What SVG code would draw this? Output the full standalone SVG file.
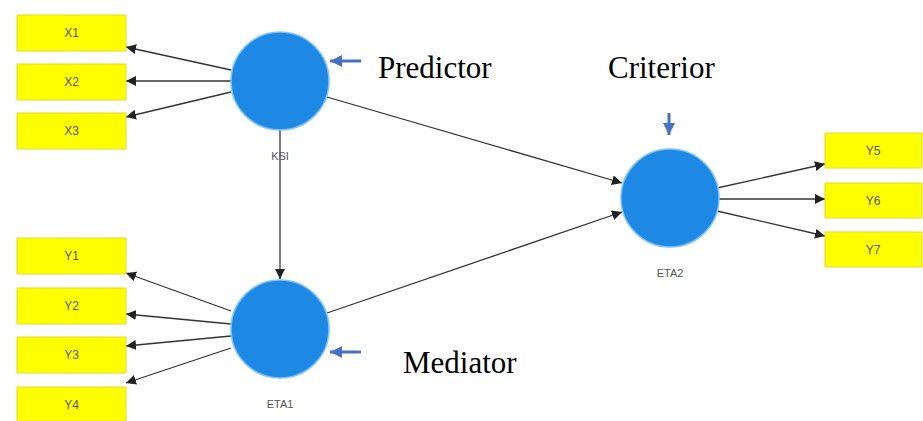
<svg xmlns="http://www.w3.org/2000/svg" width="923" height="421" viewBox="0 0 923 421">
<defs>
<marker id="ah" viewBox="0 0 10 10" refX="10" refY="5" markerWidth="10" markerHeight="10" markerUnits="userSpaceOnUse" orient="auto"><path d="M0,0 L10,5 L0,10 z" fill="#222"/></marker>
<marker id="bh" viewBox="0 0 10 10" refX="10" refY="5" markerWidth="12" markerHeight="12" markerUnits="userSpaceOnUse" orient="auto"><path d="M0,0 L10,5 L0,10 z" fill="#4472C4"/></marker>
</defs>
<style>
.box{fill:#FFFF00;stroke:#E0DA30;stroke-width:1}
.bt{font-family:"Liberation Sans",Arial,sans-serif;font-size:12px;fill:#555;text-anchor:middle}
.lv{fill:#1E88E5;stroke:#7FC4F5;stroke-width:1.5}
.lt{font-family:"Liberation Sans",Arial,sans-serif;font-size:11px;fill:#555;text-anchor:middle}
.cn{stroke:#333;stroke-width:1.3;fill:none;marker-end:url(#ah)}
.ba{stroke:#4472C4;stroke-width:3;fill:none;marker-end:url(#bh)}
.ann{font-family:"Liberation Serif","Times New Roman",serif;font-size:31px;fill:#000}
</style>
<rect width="923" height="421" fill="#fff"/>
<g id="connectors">
<line class="cn" x1="231" y1="70" x2="126" y2="47"/>
<line class="cn" x1="231" y1="81" x2="126" y2="81"/>
<line class="cn" x1="231" y1="92" x2="126" y2="117"/>
<line class="cn" x1="280" y1="130" x2="280" y2="279"/>
<line class="cn" x1="327" y1="97" x2="622" y2="183"/>
<line class="cn" x1="327" y1="313" x2="622" y2="212"/>
<line class="cn" x1="231" y1="311" x2="126" y2="273"/>
<line class="cn" x1="231" y1="324" x2="126" y2="314"/>
<line class="cn" x1="231" y1="336" x2="126" y2="346"/>
<line class="cn" x1="231" y1="348" x2="126" y2="383"/>
<line class="cn" x1="717" y1="188" x2="825" y2="164"/>
<line class="cn" x1="719" y1="199" x2="825" y2="199"/>
<line class="cn" x1="717" y1="211" x2="825" y2="236"/>
</g>
<g id="X1"><rect class="box" x="17" y="15" width="109" height="36"/><text class="bt" x="71.5" y="37">X1</text></g>
<g id="X2"><rect class="box" x="17" y="64" width="109" height="36"/><text class="bt" x="71.5" y="86">X2</text></g>
<g id="X3"><rect class="box" x="17" y="113" width="109" height="36"/><text class="bt" x="71.5" y="135">X3</text></g>
<g id="Y1"><rect class="box" x="17" y="238" width="109" height="36"/><text class="bt" x="71.5" y="260">Y1</text></g>
<g id="Y2"><rect class="box" x="17" y="288" width="109" height="36"/><text class="bt" x="71.5" y="310">Y2</text></g>
<g id="Y3"><rect class="box" x="17" y="337" width="109" height="36"/><text class="bt" x="71.5" y="359">Y3</text></g>
<g id="Y4"><rect class="box" x="17" y="387" width="109" height="34"/><text class="bt" x="71.5" y="409">Y4</text></g>
<g id="Y5"><rect class="box" x="825" y="133" width="97" height="35"/><text class="bt" x="873" y="155">Y5</text></g>
<g id="Y6"><rect class="box" x="825" y="183" width="97" height="35"/><text class="bt" x="873" y="205">Y6</text></g>
<g id="Y7"><rect class="box" x="825" y="232" width="97" height="35"/><text class="bt" x="873" y="254">Y7</text></g>
<g id="KSI"><circle class="lv" cx="280" cy="81" r="49"/><text class="lt" x="280" y="160">KSI</text></g>
<g id="ETA1"><circle class="lv" cx="280" cy="329" r="49"/><text class="lt" x="280" y="408">ETA1</text></g>
<g id="ETA2"><circle class="lv" cx="670" cy="198" r="49"/><text class="lt" x="670" y="277">ETA2</text></g>
<g id="annotations">
<line class="ba" x1="361" y1="61" x2="330" y2="61"/>
<text class="ann" x="378" y="78">Predictor</text>
<line class="ba" x1="669" y1="113" x2="669" y2="135"/>
<text class="ann" x="608" y="78">Criterior</text>
<line class="ba" x1="361" y1="352" x2="330" y2="352"/>
<text class="ann" x="403" y="373">Mediator</text>
</g>
</svg>
